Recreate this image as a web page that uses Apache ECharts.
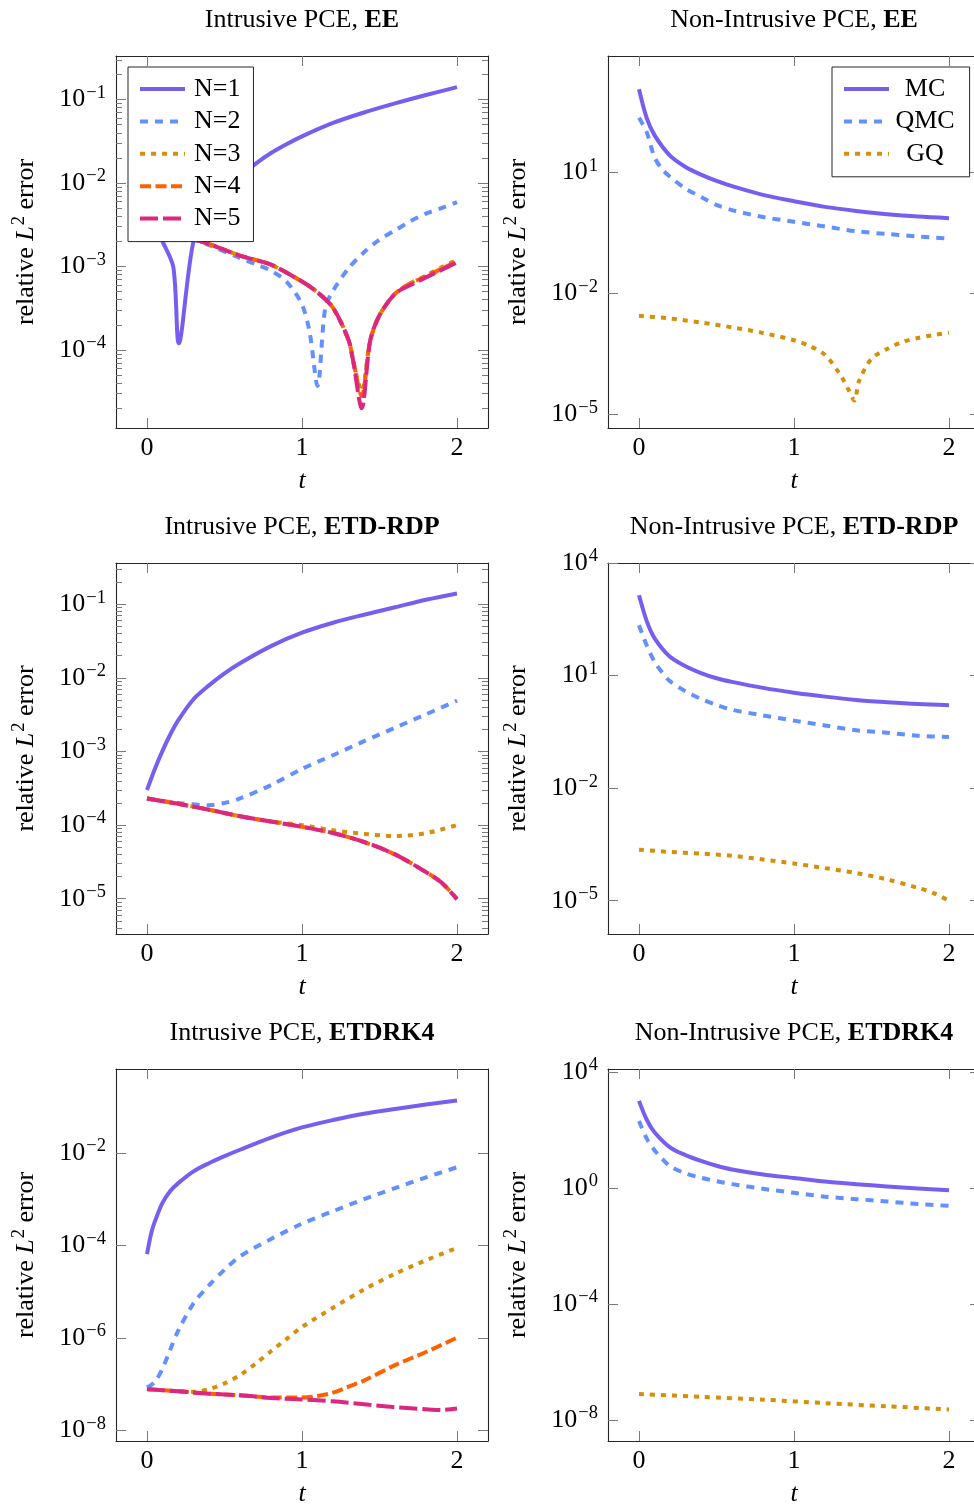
<!DOCTYPE html>
<html><head><meta charset="utf-8">
<script src="https://cdn.jsdelivr.net/npm/echarts@6/dist/echarts.min.js"></script>
<style>html,body{margin:0;padding:0;background:#fff}#c{width:974px;height:1504px}</style>
</head><body><div id="c"></div>
<script>
// ---------------- DATA ----------------
const xTicks = [0, 1, 2];
// Panel 1: Intrusive PCE, EE
const p1_N1_t = [0, 0.05, 0.1, 0.17, 0.205, 0.3, 0.4, 0.5, 0.6, 0.7, 0.8, 0.9, 1.0, 1.2, 1.4, 1.6, 1.8, 2.0];
const p1_N1_y = [5.0e-3, 3.2e-3, 2.0e-3, 9.8e-4, 1.2e-4, 2.0e-3, 4.5e-3, 7.9e-3, 1.2e-2, 1.7e-2, 2.29e-2, 2.92e-2, 3.63e-2, 5.25e-2, 7.0e-2, 9.0e-2, 0.1135, 0.141];
const p1_N2_t = [0, 0.2, 0.4, 0.6, 0.7, 0.8, 0.9, 1.0, 1.05, 1.1, 1.15, 1.2, 1.3, 1.4, 1.5, 1.6, 1.7, 1.8, 1.9, 2.0];
const p1_N2_y = [2.8e-3, 2.4e-3, 1.8e-3, 1.26e-3, 1.07e-3, 8.9e-4, 6.6e-4, 3.5e-4, 1.6e-4, 3.7e-5, 3.2e-4, 5.1e-4, 9.5e-4, 1.48e-3, 2.1e-3, 2.7e-3, 3.5e-3, 4.3e-3, 5.0e-3, 5.9e-3];
const p1_N3_t = [0, 0.2, 0.4, 0.6, 0.8, 1.0, 1.1, 1.2, 1.3, 1.33, 1.385, 1.44, 1.5, 1.6, 1.7, 1.8, 1.9, 2.0];
const p1_N3_y = [2.8e-3, 2.4e-3, 1.86e-3, 1.35e-3, 1.05e-3, 6.6e-4, 4.9e-4, 3.2e-4, 1.32e-4, 7.4e-5, 3.2e-5, 1.29e-4, 2.6e-4, 4.7e-4, 6.3e-4, 7.8e-4, 9.8e-4, 1.2e-3];
const p1_N4_y = [2.8e-3, 2.4e-3, 1.86e-3, 1.35e-3, 1.05e-3, 6.6e-4, 4.9e-4, 3.2e-4, 1.32e-4, 7.4e-5, 2.8e-5, 1.29e-4, 2.6e-4, 4.7e-4, 6.3e-4, 7.6e-4, 9.4e-4, 1.15e-3];
const p1_N5_y = [2.8e-3, 2.4e-3, 1.86e-3, 1.35e-3, 1.05e-3, 6.6e-4, 4.9e-4, 3.2e-4, 1.32e-4, 7.4e-5, 2.0e-5, 1.29e-4, 2.6e-4, 4.7e-4, 6.0e-4, 7.4e-4, 9.1e-4, 1.12e-3];
// Panel 2: Non-Intrusive PCE, EE
const p2_MC_t = [0, 0.05, 0.1, 0.2, 0.3, 0.4, 0.5, 0.6, 0.8, 1.0, 1.2, 1.4, 1.6, 1.8, 2.0];
const p2_MC_y = [1175, 224, 85, 26.3, 13.8, 8.9, 6.2, 4.6, 2.8, 1.95, 1.41, 1.12, 0.93, 0.81, 0.74];
const p2_QMC_t = [0, 0.05, 0.1, 0.15, 0.2, 0.3, 0.4, 0.5, 0.6, 0.8, 1.0, 1.2, 1.4, 1.6, 1.8, 2.0];
const p2_QMC_y = [229, 100, 24, 12, 7.9, 4.0, 2.5, 1.58, 1.17, 0.79, 0.60, 0.46, 0.35, 0.30, 0.26, 0.23];
const p2_GQ_t = [0, 0.2, 0.4, 0.6, 0.8, 1.0, 1.1, 1.2, 1.3, 1.35, 1.39, 1.42, 1.5, 1.6, 1.7, 1.8, 1.9, 2.0];
const p2_GQ_y = [2.8e-3, 2.4e-3, 1.9e-3, 1.45e-3, 1.05e-3, 6.9e-4, 5.0e-4, 3.0e-4, 9.5e-5, 4.2e-5, 2.2e-5, 6.8e-5, 2.4e-4, 4.2e-4, 6.3e-4, 7.9e-4, 9.3e-4, 1.07e-3];
// Panel 3: Intrusive PCE, ETD-RDP
const p3_N1_t = [0, 0.05, 0.1, 0.15, 0.2, 0.3, 0.4, 0.5, 0.6, 0.8, 1.0, 1.2, 1.4, 1.6, 1.8, 2.0];
const p3_N1_y = [3.0e-4, 5.75e-4, 1.02e-3, 1.7e-3, 2.63e-3, 5.13e-3, 7.9e-3, 1.15e-2, 1.58e-2, 2.7e-2, 4.1e-2, 5.6e-2, 7.2e-2, 9.1e-2, 0.115, 0.14];
const p3_N2_t = [0, 0.2, 0.4, 0.5, 0.6, 0.8, 1.0, 1.2, 1.4, 1.6, 1.8, 2.0];
const p3_N2_y = [2.3e-4, 2.0e-4, 1.86e-4, 2.0e-4, 2.3e-4, 3.5e-4, 5.8e-4, 8.9e-4, 1.38e-3, 2.1e-3, 3.2e-3, 4.9e-3];
const p3_N3_t = [0, 0.2, 0.4, 0.6, 0.8, 1.0, 1.2, 1.4, 1.6, 1.8, 2.0];
const p3_N3_y = [2.3e-4, 1.95e-4, 1.62e-4, 1.32e-4, 1.12e-4, 1.0e-4, 8.5e-5, 7.6e-5, 7.1e-5, 7.8e-5, 1.0e-4];
const p3_N45_t = [0, 0.2, 0.4, 0.6, 0.8, 1.0, 1.2, 1.4, 1.6, 1.8, 1.9, 2.0];
const p3_N4_y = [2.3e-4, 1.95e-4, 1.62e-4, 1.32e-4, 1.12e-4, 9.5e-5, 7.8e-5, 5.9e-5, 4.0e-5, 2.3e-5, 1.66e-5, 1.0e-5];
const p3_N5_y = [2.3e-4, 1.95e-4, 1.62e-4, 1.32e-4, 1.12e-4, 9.5e-5, 7.8e-5, 5.9e-5, 4.0e-5, 2.3e-5, 1.66e-5, 9.8e-6];
// Panel 4: Non-Intrusive PCE, ETD-RDP
const p4_MC_t = [0, 0.05, 0.1, 0.2, 0.3, 0.4, 0.5, 0.6, 0.8, 1.0, 1.2, 1.4, 1.6, 1.8, 2.0];
const p4_MC_y = [1380, 282, 100, 31.6, 17.8, 11.7, 8.5, 6.8, 4.7, 3.5, 2.75, 2.24, 1.95, 1.74, 1.62];
const p4_QMC_t = [0, 0.05, 0.1, 0.15, 0.2, 0.3, 0.4, 0.5, 0.6, 0.8, 1.0, 1.2, 1.4, 1.6, 1.8, 2.0];
const p4_QMC_y = [219, 63, 23.4, 12.0, 7.1, 3.8, 2.4, 1.66, 1.23, 0.87, 0.63, 0.47, 0.35, 0.30, 0.25, 0.23];
const p4_GQ_t = [0, 0.2, 0.4, 0.6, 0.8, 1.0, 1.2, 1.4, 1.6, 1.8, 1.9, 2.0];
const p4_GQ_y = [2.3e-4, 2.0e-4, 1.8e-4, 1.58e-4, 1.26e-4, 9.8e-5, 7.4e-5, 5.5e-5, 3.7e-5, 2.2e-5, 1.6e-5, 1.0e-5];
// Panel 5: Intrusive PCE, ETDRK4
const p5_N1_t = [0, 0.03, 0.06, 0.1, 0.15, 0.2, 0.3, 0.4, 0.5, 0.6, 0.8, 1.0, 1.2, 1.4, 1.6, 1.8, 2.0];
const p5_N1_y = [6.5e-5, 2.0e-4, 4.0e-4, 8.3e-4, 1.5e-3, 2.2e-3, 4.0e-3, 6.0e-3, 8.5e-3, 1.17e-2, 2.14e-2, 3.55e-2, 5.13e-2, 7.0e-2, 8.9e-2, 0.111, 0.136];
const p5_N2_t = [0, 0.05, 0.1, 0.15, 0.2, 0.3, 0.4, 0.5, 0.6, 0.8, 1.0, 1.2, 1.4, 1.6, 1.8, 2.0];
const p5_N2_y = [8.5e-8, 1.12e-7, 2.2e-7, 5.6e-7, 1.41e-6, 5.6e-6, 1.38e-5, 3.0e-5, 5.8e-5, 1.38e-4, 2.95e-4, 5.5e-4, 1.0e-3, 1.74e-3, 2.95e-3, 4.9e-3];
const p5_N3_t = [0, 0.2, 0.3, 0.4, 0.5, 0.6, 0.7, 0.8, 0.9, 1.0, 1.2, 1.4, 1.6, 1.8, 2.0];
const p5_N3_y = [7.9e-8, 7.1e-8, 6.9e-8, 7.9e-8, 1.05e-7, 1.58e-7, 2.8e-7, 5.2e-7, 9.5e-7, 1.74e-6, 4.5e-6, 1.12e-5, 2.45e-5, 4.8e-5, 8.9e-5];
const p5_N4_t = [0, 0.2, 0.4, 0.6, 0.8, 1.0, 1.1, 1.2, 1.3, 1.4, 1.6, 1.8, 2.0];
const p5_N4_y = [7.9e-8, 7.1e-8, 6.3e-8, 5.8e-8, 5.2e-8, 5.2e-8, 5.6e-8, 6.6e-8, 8.9e-8, 1.2e-7, 2.6e-7, 5.0e-7, 1.02e-6];
const p5_N5_t = [0, 0.2, 0.4, 0.6, 0.8, 1.0, 1.2, 1.4, 1.6, 1.8, 1.9, 2.0];
const p5_N5_y = [7.8e-8, 7.1e-8, 6.3e-8, 5.8e-8, 5.1e-8, 4.7e-8, 4.3e-8, 3.7e-8, 3.2e-8, 2.9e-8, 2.8e-8, 3.0e-8];
// Panel 6: Non-Intrusive PCE, ETDRK4
const p6_MC_t = [0, 0.05, 0.1, 0.2, 0.3, 0.4, 0.5, 0.6, 0.8, 1.0, 1.2, 1.4, 1.6, 1.8, 2.0];
const p6_MC_y = [1000, 224, 83, 25, 13.5, 8.5, 5.8, 4.3, 2.9, 2.2, 1.66, 1.35, 1.12, 0.95, 0.83];
const p6_QMC_t = [0, 0.05, 0.1, 0.15, 0.2, 0.3, 0.4, 0.5, 0.6, 0.8, 1.0, 1.2, 1.4, 1.6, 1.8, 2.0];
const p6_QMC_y = [204, 50, 20, 10, 5.6, 3.16, 2.24, 1.7, 1.35, 0.93, 0.68, 0.5, 0.41, 0.34, 0.28, 0.24];
const p6_GQ_t = [0, 0.4, 0.8, 1.2, 1.6, 2.0];
const p6_GQ_y = [7.9e-8, 6.3e-8, 5.0e-8, 3.8e-8, 2.95e-8, 2.3e-8];

// tick labels (major y ticks)
const yTicks1 = [1e-4, 1e-3, 1e-2, 1e-1];
const yTicks2 = [1e-5, 1e-2, 1e1];
const yTicks3 = [1e-5, 1e-4, 1e-3, 1e-2, 1e-1];
const yTicks4 = [1e-5, 1e-2, 1e1, 1e4];
const yTicks5 = [1e-8, 1e-6, 1e-4, 1e-2];
const yTicks6 = [1e-8, 1e-4, 1, 1e4];

const intrusiveNames = ['N=1', 'N=2', 'N=3', 'N=4', 'N=5'];
const nonIntrusiveNames = ['MC', 'QMC', 'GQ'];

// ---------------- STYLE / LAYOUT ----------------
const FONT = '"Liberation Serif","Times New Roman",Times,serif';
const FS = 26;
const SUP = 18.5;
const STY = {
  'N=1': { color: '#785EF0', dash: 'solid' },
  'N=2': { color: '#648FFF', dash: [8, 7] },
  'N=3': { color: '#D4900A', dash: [5, 6] },
  'N=4': { color: '#FE6100', dash: [11, 4.5] },
  'N=5': { color: '#DC267F', dash: [18, 5] }
};
STY.MC = STY['N=1']; STY.QMC = STY['N=2']; STY.GQ = STY['N=3'];

function zip(t, y) { return t.map((v, i) => [v, y[i]]); }

const panels = [
  { title: ['Intrusive PCE, ', 'EE'], x: 116, y: 56, h: 372, yMin: 1.16e-5, yMax: 0.333, majors: yTicks1, minor: true,
    series: [['N=1', p1_N1_t, p1_N1_y], ['N=2', p1_N2_t, p1_N2_y], ['N=3', p1_N3_t, p1_N3_y], ['N=4', p1_N3_t, p1_N4_y], ['N=5', p1_N3_t, p1_N5_y]] },
  { title: ['Non-Intrusive PCE, ', 'EE'], x: 608, y: 56, h: 372, yMin: 4.6e-6, yMax: 7816, majors: yTicks2, minor: false,
    series: [['MC', p2_MC_t, p2_MC_y], ['QMC', p2_QMC_t, p2_QMC_y], ['GQ', p2_GQ_t, p2_GQ_y]] },
  { title: ['Intrusive PCE, ', 'ETD-RDP'], x: 116, y: 563, h: 371, yMin: 3.32e-6, yMax: 0.363, majors: yTicks3, minor: true,
    series: [['N=1', p3_N1_t, p3_N1_y], ['N=2', p3_N2_t, p3_N2_y], ['N=3', p3_N3_t, p3_N3_y], ['N=4', p3_N45_t, p3_N4_y], ['N=5', p3_N45_t, p3_N5_y]] },
  { title: ['Non-Intrusive PCE, ', 'ETD-RDP'], x: 608, y: 563, h: 371, yMin: 1.3e-6, yMax: 1e4, majors: yTicks4, minor: false,
    series: [['MC', p4_MC_t, p4_MC_y], ['QMC', p4_QMC_t, p4_QMC_y], ['GQ', p4_GQ_t, p4_GQ_y]] },
  { title: ['Intrusive PCE, ', 'ETDRK4'], x: 116, y: 1069, h: 372, yMin: 5.97e-9, yMax: 0.65, majors: yTicks5, minor: false,
    series: [['N=1', p5_N1_t, p5_N1_y], ['N=2', p5_N2_t, p5_N2_y], ['N=3', p5_N3_t, p5_N3_y], ['N=4', p5_N4_t, p5_N4_y], ['N=5', p5_N5_t, p5_N5_y]] },
  { title: ['Non-Intrusive PCE, ', 'ETDRK4'], x: 608, y: 1069, h: 372, yMin: 1.88e-9, yMax: 12589, majors: yTicks6, minor: false,
    series: [['MC', p6_MC_t, p6_MC_y], ['QMC', p6_QMC_t, p6_QMC_y], ['GQ', p6_GQ_t, p6_GQ_y]] }
];
const W = 372;

function minorTicks(lo, hi) {
  const out = [];
  for (let e = Math.floor(Math.log10(lo)); e <= Math.ceil(Math.log10(hi)); e++) {
    for (let k = 2; k <= 9; k++) { const v = k * Math.pow(10, e); if (v > lo && v < hi) out.push(+v.toPrecision(6)); }
  }
  return out;
}
function supLabel(v) {
  const e = Math.round(Math.log10(v));
  return '{b|10}{s|' + (e < 0 ? '\u2212' + (-e) : e) + '}';
}
const txt = { fontFamily: FONT, fontSize: FS, color: '#000', fontWeight: 'normal' };
const labelRich = { b: Object.assign({}, txt), s: Object.assign({}, txt, { fontSize: SUP, padding: [0, 0, 13, 1] }) };
const LINE = { color: '#262626', width: 1.1 };
const TICK = { color: '#7a7a7a', width: 1 };

const grid = [], xAxis = [], yAxis = [], series = [], title = [];
panels.forEach((p, g) => {
  grid.push({ left: p.x, top: p.y, width: W, height: p.h, containLabel: false, outerBoundsMode: 'none' });
  title.push({
    text: '{n|' + p.title[0] + '}{b|' + p.title[1] + '}',
    left: p.x + W / 2, top: p.y - 49, textAlign: 'center', padding: 0,
    textStyle: Object.assign({}, txt, { rich: { n: Object.assign({}, txt), b: Object.assign({}, txt, { fontWeight: 'bold' }) } })
  });
  const xi = xAxis.length;
  xAxis.push({
    type: 'value', gridIndex: g, min: -0.2, max: 2.2, position: 'bottom',
    axisLine: { show: true, onZero: false, lineStyle: LINE },
    axisTick: { show: true, inside: true, length: 10, customValues: xTicks, lineStyle: TICK },
    axisLabel: { show: true, customValues: xTicks, margin: 7, fontFamily: FONT, fontSize: FS, color: '#000' },
    splitLine: { show: false },
    name: 't', nameLocation: 'middle', nameGap: 40,
    nameTextStyle: { fontFamily: FONT, fontSize: FS, fontStyle: 'italic', color: '#000' }
  });
  xAxis.push({
    type: 'value', gridIndex: g, min: -0.2, max: 2.2, position: 'top',
    axisLine: { show: true, onZero: false, lineStyle: LINE },
    axisTick: { show: true, inside: true, length: 10, customValues: xTicks, lineStyle: TICK },
    axisLabel: { show: false }, splitLine: { show: false }
  });
  const yi = yAxis.length;
  yAxis.push({
    type: 'log', gridIndex: g, min: p.yMin, max: p.yMax, position: 'left',
    axisLine: { show: true, onZero: false, lineStyle: LINE },
    axisTick: { show: true, inside: true, length: 10, customValues: p.majors, lineStyle: TICK },
    axisLabel: { show: true, customValues: p.majors, margin: 10, formatter: supLabel, rich: labelRich },
    splitLine: { show: false }, minorTick: { show: false },
    name: '{n|relative }{i|L}{s|2}{n| error}', nameLocation: 'middle', nameRotate: 90, nameGap: 74, nameMoveOverlap: false,
    nameTextStyle: { rich: { n: Object.assign({}, txt), i: Object.assign({}, txt, { fontStyle: 'italic' }), s: Object.assign({}, txt, { fontSize: SUP, padding: [0, 0, 13, 1] }) } }
  });
  yAxis.push({
    type: 'log', gridIndex: g, min: p.yMin, max: p.yMax, position: 'right',
    axisLine: { show: true, onZero: false, lineStyle: LINE },
    axisTick: { show: true, inside: true, length: 10, customValues: p.majors, lineStyle: TICK },
    axisLabel: { show: false }, splitLine: { show: false }
  });
  if (p.minor) {
    const mt = minorTicks(p.yMin, p.yMax);
    ['left', 'right'].forEach(pos => {
      yAxis.push({
        type: 'log', gridIndex: g, min: p.yMin, max: p.yMax, position: pos, offset: 0,
        axisLine: { show: false, onZero: false },
        axisTick: { show: true, inside: true, length: 6, customValues: mt, lineStyle: TICK },
        axisLabel: { show: false }, splitLine: { show: false }
      });
    });
  }
  p.series.forEach(([name, t, y]) => {
    const s = STY[name];
    series.push({
      type: 'line', name, xAxisIndex: xi, yAxisIndex: yi, data: zip(t, y),
      symbol: 'none', smooth: 0.3, clip: true, animation: false,
      itemStyle: { color: s.color },
      lineStyle: { color: s.color, width: 4, type: s.dash, cap: 'butt', join: 'miter' }
    });
  });
});

const legTxt = Object.assign({}, txt);
const legCommon = {
  orient: 'vertical', selectedMode: false, itemWidth: 45, itemHeight: 24, itemGap: 6.4,
  borderColor: '#262626', borderWidth: 1, backgroundColor: '#fff',
  itemStyle: { opacity: 0 }, lineStyle: { width: 4 }
};
const option = {
  backgroundColor: '#fff',
  animation: false,
  title, grid, xAxis, yAxis, series,
  legend: [
    Object.assign({}, legCommon, { data: intrusiveNames, left: 128, top: 67, padding: [9, 13, 10, 10],
      textStyle: Object.assign({}, legTxt, { padding: [0, 0, 0, 4] }) }),
    Object.assign({}, legCommon, { data: nonIntrusiveNames, left: 832, top: 67, padding: [9, 15, 10, 10],
      formatter: n => '{c|' + n + '}',
      textStyle: Object.assign({}, legTxt, { rich: { c: Object.assign({}, legTxt, { width: 62, align: 'center' }) } }) })
  ]
};
const chart = echarts.init(document.getElementById('c'), null, { renderer: 'canvas' });
chart.setOption(option);
</script></body></html>
